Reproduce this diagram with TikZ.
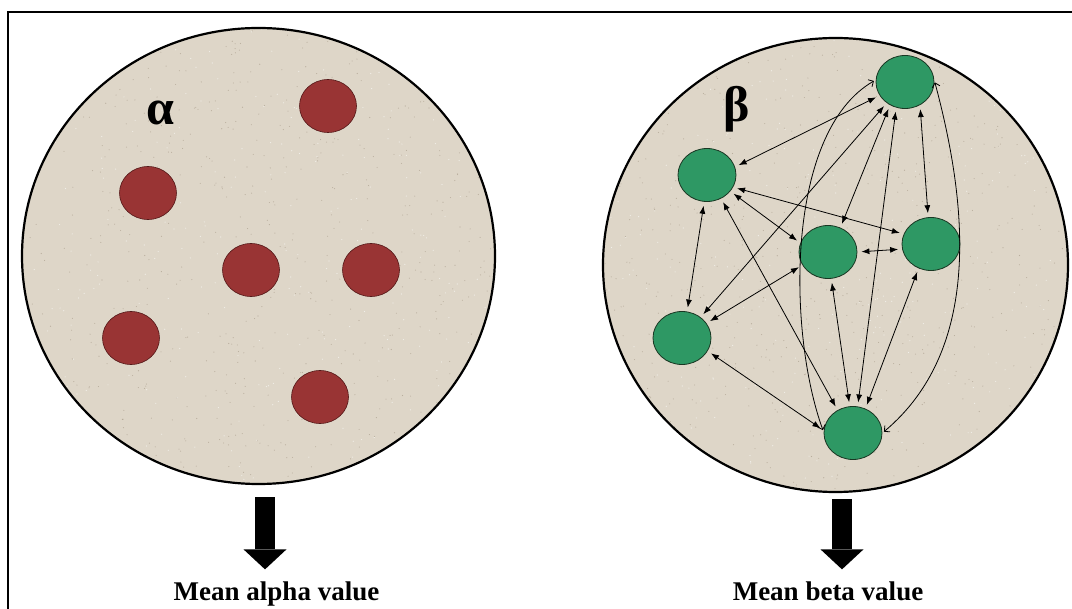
\documentclass[tikz,border=0pt]{standalone}
\usepackage{fontspec}
\setmainfont{Liberation Serif}
\usepackage{xcolor}
\usepackage{tikz}
\usetikzlibrary{shapes.geometric,arrows.meta}

\definecolor{sand}{RGB}{222,214,200}
\definecolor{grain}{RGB}{170,158,140}
\definecolor{cellred}{RGB}{153,52,52}
\definecolor{cellredline}{RGB}{85,25,25}
\definecolor{cellgreen}{RGB}{46,152,100}
\definecolor{cellgreenline}{RGB}{25,55,35}

\begin{document}
\begin{tikzpicture}[x=1pt,y=-1pt,
    disk/.style={ellipse,draw=black,line width=2.2pt,fill=sand,inner sep=0pt},
    redcell/.style={ellipse,draw=cellredline,fill=cellred,line width=0.6pt,
      minimum width=57pt,minimum height=53pt,inner sep=0pt},
    greencell/.style={ellipse,draw=cellgreenline,fill=cellgreen,line width=0.8pt,
      minimum width=58pt,minimum height=53pt,inner sep=0pt},
    link/.style={{Latex[length=8pt,width=6pt]}-{Latex[length=8pt,width=6pt]},
      line width=0.8pt,shorten <=4pt,shorten >=4pt},
    arclink/.style={{Straight Barb[length=4pt,width=8pt]}-{Straight Barb[length=4pt,width=8pt]},
      line width=0.8pt,shorten <=2pt,shorten >=2pt},
    bigarrow/.style={line width=20pt,-{Triangle[length=20pt,width=43pt,line width=0pt]}},
    greek/.style={font=\bfseries\fontsize{50}{52}\selectfont,inner sep=0pt,anchor=base},
    caption/.style={font=\bfseries\fontsize{27}{30}\selectfont,inner sep=0pt,anchor=base}]
    \useasboundingbox (0,0) rectangle (1072,609);
    \draw[line width=2pt] (8,609) -- (8,12) -- (1072,12);

    \node[disk,minimum width=473pt,minimum height=456pt] (alphaDisk) at (258.5,256) {};
    \node[disk,minimum width=465pt,minimum height=454pt] (betaDisk) at (835.5,265) {};

    % speckled stone
    \pgfmathsetseed{17}
    \begin{scope}
        \clip (258.5,256) ellipse [x radius=235, y radius=226.5];
        \foreach \i in {1,...,650} {\fill[grain,opacity=0.7] ({258.5+236*rand},{256+228*rand}) circle (0.55);}
        \foreach \i in {1,...,350} {\fill[white,opacity=0.6] ({258.5+236*rand},{256+228*rand}) circle (0.6);}
    \end{scope}
    \begin{scope}
        \clip (835.5,265) ellipse [x radius=231, y radius=225.5];
        \foreach \i in {1,...,650} {\fill[grain,opacity=0.7] ({835.5+232*rand},{265+227*rand}) circle (0.55);}
        \foreach \i in {1,...,350} {\fill[white,opacity=0.6] ({835.5+232*rand},{265+227*rand}) circle (0.6);}
    \end{scope}

    \node[greek] (alphaSym) at (160.5,125) {α};
    \node[greek] (betaSym) at (736.5,122) {β};

    \foreach \x/\y [count=\i] in {328/106,148/193,251/270,371/270,131/338,320/397}
        \node[redcell] (r\i) at (\x,\y) {};

    \foreach \x/\y [count=\i] in {905/82,707/175,828/252,931/244,682/338,853/433}
        \node[greencell] (b\i) at (\x,\y) {};

    \foreach \a/\p/\b/\q in {b2/16/b1/208, b1/229/b5/48, b1/237/b3/63, b1/251/b6/80,
        b1/303/b4/96, b2/335/b4/160, b2/325/b3/162, b2/264/b5/79, b2/301/b6/124,
        b3/0/b4/190, b3/207/b5/31, b3/277/b6/97, b4/243/b6/63, b5/333/b6/175}
        \draw[link] (\a.\p) -- (\b.\q);

    \draw[arclink] (b6.178) .. controls +(110:105pt) and +(210:105pt) .. (b1.176);
    \draw[arclink] (b1.3) .. controls +(-75:130pt) and +(40:130pt) .. (b6.0);

    \node[caption] (alphaCap) at (276.5,601) {Mean alpha value};
    \node[caption] (betaCap) at (828,601) {Mean beta value};

    \draw[bigarrow] ([xshift=6.5pt,yshift=-12pt]alphaDisk.south) -- ([xshift=-11.5pt,yshift=12.7pt]alphaCap.north);
    \draw[bigarrow] ([xshift=6.5pt,yshift=-6pt]betaDisk.south) -- ([xshift=14pt,yshift=12.7pt]betaCap.north);
\end{tikzpicture}
\end{document}
